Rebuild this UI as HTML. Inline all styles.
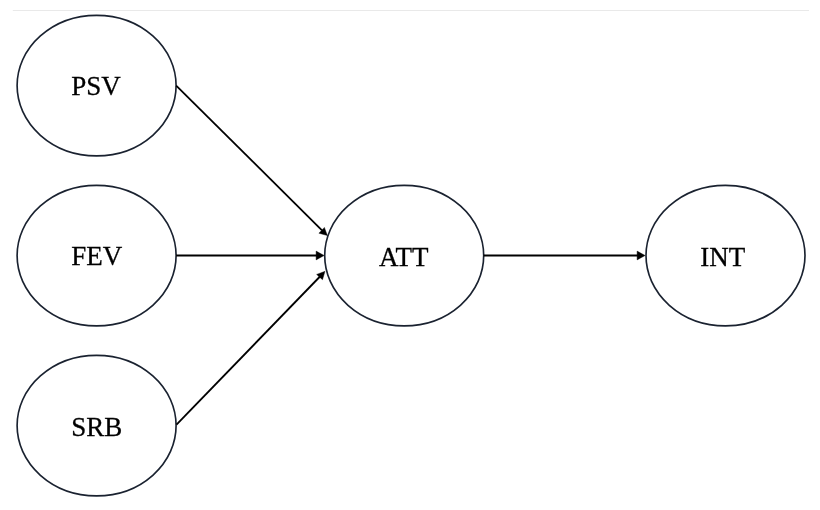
<!DOCTYPE html>
<html><head><meta charset="utf-8">
<style>
html,body{margin:0;padding:0;background:#fff;width:820px;height:510px;overflow:hidden;}
svg{position:absolute;left:0;top:0;will-change:transform;}
text{font-family:"Liberation Serif",serif;font-size:27px;fill:#000;stroke:#000;stroke-width:0.3px;}
</style></head>
<body>
<svg width="820" height="510" viewBox="0 0 820 510">
<rect x="12.8" y="10" width="796.2" height="1" fill="#e9e9e9"/>
<g fill="none" stroke="#1a2230" stroke-width="1.65">
<ellipse cx="96.6" cy="85.6" rx="79.5" ry="70.25"/>
<ellipse cx="96.6" cy="255.6" rx="79.5" ry="70.25"/>
<ellipse cx="96.6" cy="425.6" rx="79.5" ry="70.25"/>
<ellipse cx="404.2" cy="255.6" rx="79.5" ry="70.25"/>
<ellipse cx="725.5" cy="255.6" rx="79.5" ry="70.25"/>
</g>
<g stroke="#000" stroke-width="1.8" fill="none">
<line x1="176.2" y1="85.6" x2="322" y2="230.3"/>
<line x1="176.2" y1="255.5" x2="318" y2="255.5"/>
<line x1="176.5" y1="424.7" x2="320" y2="276.5"/>
<line x1="483.6" y1="255.5" x2="639" y2="255.5"/>
</g>
<g fill="#000" stroke="#000" stroke-width="0.4" stroke-linejoin="miter">
<polygon points="327.4,235.6 318.9,233.2 324.4,227.4"/>
<polygon points="324.1,255.5 316.1,251.1 316.1,259.9"/>
<polygon points="325,271.3 316.6,274.4 322.5,279.7"/>
<polygon points="645.1,255.5 637.1,251.1 637.1,259.9"/>
</g>
<g text-anchor="middle">
<text transform="translate(96,94.9) scale(1,1.03)">PSV</text>
<text transform="translate(96.8,265.1) scale(1,1.03)">FEV</text>
<text transform="translate(96.8,435.7) scale(1,1.03)">SRB</text>
<text transform="translate(403.7,265.7) scale(1,1.03)">ATT</text>
<text transform="translate(722.8,265.7) scale(1,1.03)">INT</text>
</g>
</svg>
</body></html>
